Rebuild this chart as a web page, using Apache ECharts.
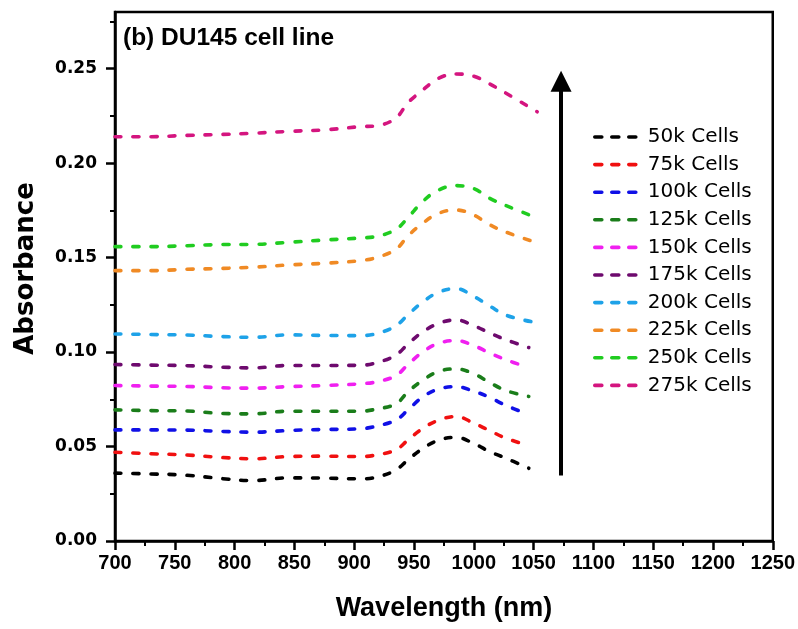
<!DOCTYPE html>
<html>
<head>
<meta charset="utf-8">
<script src="https://cdn.jsdelivr.net/npm/echarts@6/dist/echarts.min.js"></script>
<style>html,body{margin:0;padding:0;background:#fff}#c{width:798px;height:629px}</style>
</head>
<body>
<div id="c"></div>
<script>
// ---- data ----
const wavelengthsLow  = [700,730,760,790,815,845,875,905,920,935,945,957,970,985,1000,1013,1027,1046];
const wavelengthsHigh = [700,730,760,790,815,845,875,905,920,935,945,957,970,985,1000,1013,1027,1053];

const seriesNames = ['50k Cells','75k Cells','100k Cells','125k Cells','150k Cells','175k Cells','200k Cells','225k Cells','250k Cells','275k Cells'];

const cells50k  = [0.0359,0.0355,0.0348,0.0330,0.0320,0.0334,0.0333,0.0329,0.0340,0.0377,0.0430,0.0488,0.0532,0.0549,0.0516,0.0474,0.0438,0.0385];
const cells75k  = [0.0470,0.0462,0.0455,0.0442,0.0435,0.0447,0.0449,0.0447,0.0457,0.0483,0.0535,0.0594,0.0638,0.0659,0.0624,0.0585,0.0544,0.0505];
const cells100k = [0.0588,0.0588,0.0587,0.0580,0.0576,0.0585,0.0590,0.0594,0.0610,0.0641,0.0694,0.0761,0.0803,0.0817,0.0793,0.0761,0.0717,0.0670];
const cells125k = [0.0694,0.0690,0.0688,0.0675,0.0673,0.0687,0.0687,0.0687,0.0700,0.0726,0.0790,0.0849,0.0896,0.0911,0.0885,0.0840,0.0796,0.0765];
const cells150k = [0.0823,0.0820,0.0818,0.0811,0.0809,0.0817,0.0823,0.0832,0.0844,0.0876,0.0934,0.0999,0.1045,0.1061,0.1034,0.0996,0.0959,0.0918];
const cells175k = [0.0934,0.0931,0.0928,0.0920,0.0916,0.0929,0.0929,0.0930,0.0946,0.0985,0.1043,0.1105,0.1150,0.1170,0.1140,0.1102,0.1065,0.1024];
const cells200k = [0.1096,0.1093,0.1090,0.1082,0.1078,0.1091,0.1088,0.1087,0.1100,0.1140,0.1198,0.1263,0.1315,0.1336,0.1295,0.1245,0.1195,0.1155];
const cells225k = [0.1431,0.1431,0.1438,0.1443,0.1449,0.1461,0.1470,0.1484,0.1503,0.1545,0.1615,0.1680,0.1733,0.1752,0.1725,0.1675,0.1635,0.1578];
const cells250k = [0.1558,0.1558,0.1563,0.1569,0.1570,0.1581,0.1593,0.1604,0.1614,0.1650,0.1712,0.1795,0.1856,0.1881,0.1865,0.1815,0.1775,0.1710];
const cells275k = [0.2140,0.2140,0.2147,0.2152,0.2158,0.2168,0.2176,0.2193,0.2199,0.2240,0.2320,0.2385,0.2447,0.2472,0.2460,0.2420,0.2370,0.2272];

const seriesValues = [cells50k,cells75k,cells100k,cells125k,cells150k,cells175k,cells200k,cells225k,cells250k,cells275k];
const seriesWavelengths = [wavelengthsLow,wavelengthsLow,wavelengthsLow,wavelengthsLow,wavelengthsLow,wavelengthsLow,wavelengthsHigh,wavelengthsHigh,wavelengthsHigh,wavelengthsHigh];
const seriesColors = ['#000000','#f01010','#1010e6','#1a7d1a','#f020f0','#6e0a6e','#1ea2e8','#f08a24','#20cc20','#d4157f'];

const yMajorTicks = [0,0.05,0.10,0.15,0.20,0.25];
const yMinorTicks = [0.025,0.075,0.125,0.175,0.225,0.275];
const arrowStart = [1073, 0.0347];
const arrowEnd   = [1073, 0.2434];

// ---- chart ----
const chart = echarts.init(document.getElementById('c'), null, {renderer:'canvas'});

const series = seriesNames.map((name,i)=>({
  name: name,
  type: 'line',
  data: seriesWavelengths[i].map((w,j)=>[w, seriesValues[i][j]]),
  smooth: 0.4,
  symbol: 'none',
  showSymbol: false,
  color: seriesColors[i],
  lineStyle: {color: seriesColors[i], width: 3.6, type: [6,12], cap: 'round'},
  z: 3
}));

series[0].markLine = {
  silent: true,
  animation: false,
  symbol: ['none','triangle'],
  symbolSize: [21, 21],
  label: {show:false},
  lineStyle: {color:'#000', width:4, type:'solid'},
  emphasis: {disabled:true},
  data: [[{coord: arrowStart}, {coord: arrowEnd}]]
};

const axisFont = 'Liberation Sans';
chart.setOption({
  animation: false,
  backgroundColor: '#fff',
  title: {
    text: '(b) DU145 cell line',
    left: 123, top: 26, padding: 0,
    textStyle: {fontFamily: axisFont, fontWeight: 'bold', fontSize: 24.5, color: '#000'}
  },
  grid: {left: 115, right: 25, top: 12, bottom: 88, show: true, borderColor: '#000', borderWidth: 2.5, containLabel: false},
  legend: {
    orient: 'vertical',
    left: 588, top: 122,
    itemWidth: 47, itemHeight: 14, itemGap: 7.6,
    data: seriesNames,
    itemStyle: {opacity: 0, color: 'transparent', borderColor: 'transparent', borderWidth: 0},
    lineStyle: {width: 3.6, cap: 'round', type: [7,10]},
    textStyle: {fontFamily: 'DejaVu Sans', fontSize: 20, color: '#000', lineHeight: 20, padding: [0,0,0,1]},
    selectedMode: false
  },
  xAxis: {
    type: 'value', min: 700, max: 1250, interval: 50,
    name: 'Wavelength (nm)', nameLocation: 'middle', nameGap: 54,
    nameTextStyle: {fontFamily: axisFont, fontWeight: 'bold', fontSize: 27, color: '#000'},
    axisLine: {show: true, lineStyle: {color: '#000', width: 2.5}},
    axisTick: {show: true, inside: false, length: 9, lineStyle: {color: '#000', width: 2.5}},
    minorTick: {show: true, splitNumber: 2, length: 5, lineStyle: {color: '#000', width: 2}},
    axisLabel: {fontFamily: axisFont, fontWeight: 'bold', fontSize: 20, color: '#000', margin: 12,
      formatter: v => String(v)},
    splitLine: {show: false}, minorSplitLine: {show: false}
  },
  yAxis: [{
    type: 'value', min: 0, max: 0.28, interval: 0.05,
    name: 'Absorbance', nameLocation: 'middle', nameGap: 76,
    nameTextStyle: {fontFamily: 'DejaVu Sans', fontWeight: 'bold', fontSize: 26, color: '#000', padding: [0,0,0,16]},
    axisLine: {show: true, lineStyle: {color: '#000', width: 2.5}},
    axisTick: {show: true, inside: false, length: 9, lineStyle: {color: '#000', width: 2.5}, customValues: yMajorTicks},
    axisLabel: {fontFamily: 'DejaVu Sans', fontWeight: 'bold', fontSize: 17, color: '#000', margin: 18,
      customValues: yMajorTicks, formatter: v => v.toFixed(2)},
    splitLine: {show: false}
  }, {
    type: 'value', min: 0, max: 0.28, position: 'left',
    axisLine: {show: false},
    axisTick: {show: true, inside: false, length: 5, lineStyle: {color: '#000', width: 2}, customValues: yMinorTicks},
    axisLabel: {show: false},
    splitLine: {show: false}
  }],
  series: series
});
</script>
</body>
</html>
